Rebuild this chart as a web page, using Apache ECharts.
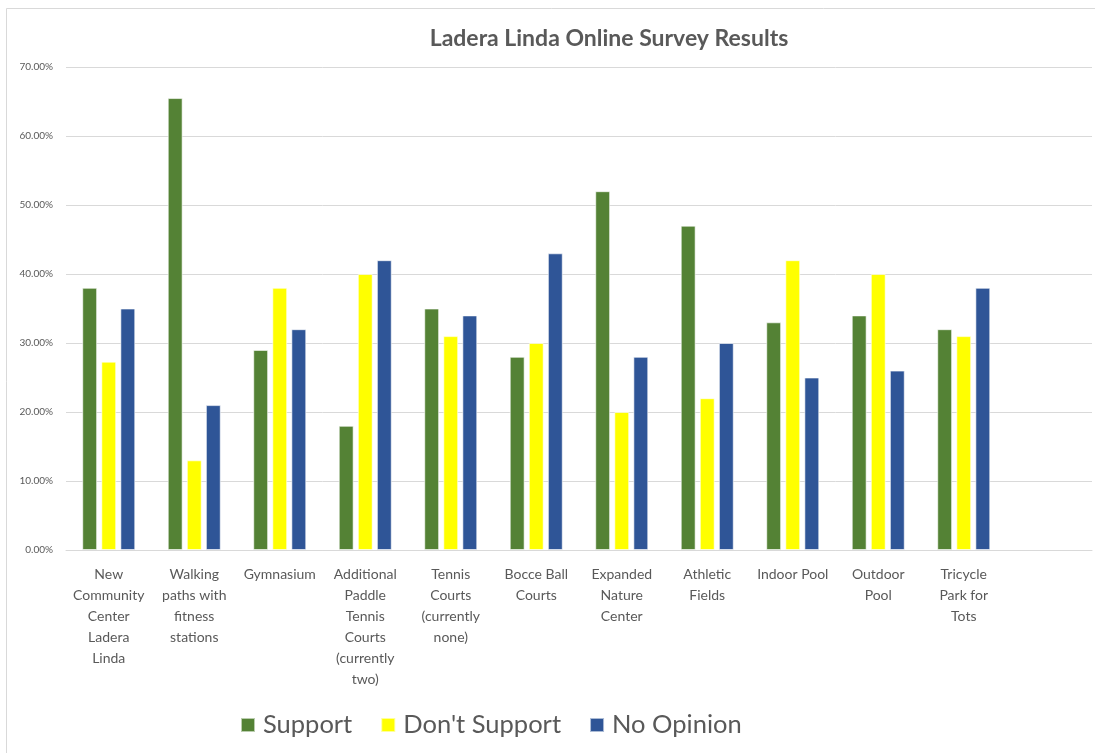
<!DOCTYPE html>
<html>
<head>
<meta charset="utf-8">
<script src="https://cdn.jsdelivr.net/npm/echarts@6/dist/echarts.min.js"></script>
<style>
html,body{margin:0;padding:0;background:#fff;}
#chart{width:1095px;height:753px;}
</style>
</head>
<body>
<div id="chart"></div>
<script>
const categories = [
  "New\nCommunity\nCenter\nLadera\nLinda",
  "Walking\npaths with\nfitness\nstations",
  "Gymnasium",
  "Additional\nPaddle\nTennis\nCourts\n(currently\ntwo)",
  "Tennis\nCourts\n(currently\nnone)",
  "Bocce Ball\nCourts",
  "Expanded\nNature\nCenter",
  "Athletic\nFields",
  "Indoor Pool",
  "Outdoor\nPool",
  "Tricycle\nPark for\nTots",
  ""
];
const support      = [0.38, 0.655, 0.29, 0.18, 0.35, 0.28, 0.52, 0.47, 0.33, 0.34, 0.32, null];
const dontSupport  = [0.273, 0.13, 0.38, 0.40, 0.31, 0.30, 0.20, 0.22, 0.42, 0.40, 0.31, null];
const noOpinion    = [0.35, 0.21, 0.32, 0.42, 0.34, 0.43, 0.28, 0.30, 0.25, 0.26, 0.38, null];
const seriesNames  = ["Support", "Don't Support", "No Opinion"];
const yTicks = { min: 0, max: 0.7, interval: 0.1 };

const chart = echarts.init(document.getElementById('chart'));
const txt = '#595959';
const font = 'Lato, "Open Sans", sans-serif';
const barStyle = c => ({ color: c, borderColor: 'rgba(255,255,255,0.6)', borderWidth: 1 });
chart.setOption({
  animation: false,
  backgroundColor: '#fff',
  textStyle: { fontFamily: font },
  graphic: [{
    type: 'rect', shape: { x: 6.5, y: 8.5, width: 1100, height: 760 },
    style: { fill: 'none', stroke: '#d9d9d9', lineWidth: 1 }, silent: true
  }],
  title: {
    text: 'Ladera Linda Online Survey Results',
    left: 604, top: 22, textAlign: 'center',
    textStyle: { color: txt, fontSize: 23, fontWeight: 'bold', fontFamily: font }
  },
  legend: {
    data: seriesNames,
    left: 235, top: 707,
    itemWidth: 14, itemHeight: 14, itemGap: 28,
    icon: 'rect',
    textStyle: { color: txt, fontSize: 25.5, fontFamily: font, padding: [0, 0, 0, 3] }
  },
  grid: { left: 66, right: 3, top: 67, bottom: 203, containLabel: false },
  xAxis: {
    type: 'category',
    data: categories,
    axisLine: { lineStyle: { color: '#d9d9d9' } },
    axisTick: { show: false },
    axisLabel: {
      interval: 0, color: txt, fontSize: 14, lineHeight: 21, margin: 14,
      fontFamily: font, align: 'center', verticalAlign: 'top'
    }
  },
  yAxis: {
    type: 'value',
    min: yTicks.min, max: yTicks.max, interval: yTicks.interval,
    axisLine: { show: false },
    axisTick: { show: false },
    splitLine: { lineStyle: { color: '#d9d9d9', width: 1 } },
    axisLabel: {
      color: txt, fontSize: 10, margin: 13, fontFamily: font,
      formatter: v => (v * 100).toFixed(2) + '%'
    }
  },
  series: [
    { name: seriesNames[0], type: 'bar', data: support, itemStyle: barStyle('#548235'), barGap: '28%', barCategoryGap: '38%' },
    { name: seriesNames[1], type: 'bar', data: dontSupport, itemStyle: barStyle('#FFFF00'), barGap: '28%', barCategoryGap: '38%' },
    { name: seriesNames[2], type: 'bar', data: noOpinion, itemStyle: barStyle('#2F5597'), barGap: '28%', barCategoryGap: '38%' }
  ]
});
</script>
</body>
</html>
